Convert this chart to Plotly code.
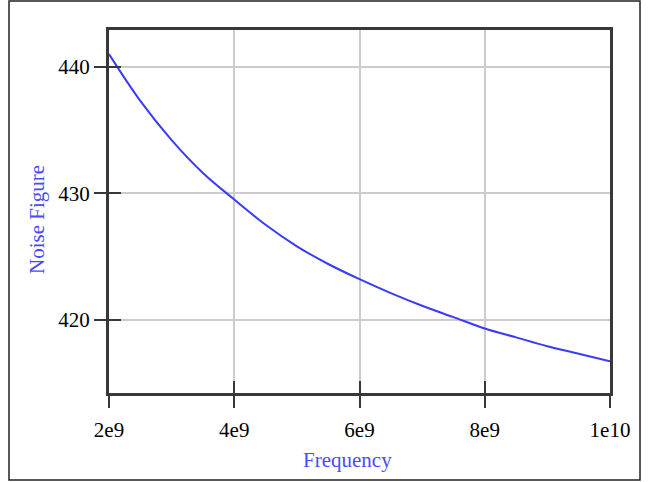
import plotly.graph_objects as go

# Frequency (Hz) and Noise Figure values
frequency = [2.0e9, 2.5e9, 3.0e9, 3.5e9, 4.0e9, 4.5e9, 5.0e9, 5.5e9, 6.0e9,
             6.5e9, 7.0e9, 7.5e9, 8.0e9, 8.5e9, 9.0e9, 9.5e9, 1.0e10]
noise_figure = [441.0, 437.3, 434.2, 431.6, 429.5, 427.5, 425.8, 424.4, 423.2,
                422.1, 421.1, 420.2, 419.3, 418.6, 417.9, 417.3, 416.7]

x_tickvals = [2e9, 4e9, 6e9, 8e9, 1e10]
x_ticktext = ["2e9", "4e9", "6e9", "8e9", "1e10"]
y_tickvals = [420, 430, 440]
y_ticktext = ["420", "430", "440"]

x_range = [2e9, 1e10]
y_range = [414.2, 442.9]

serif = "Liberation Serif, Times New Roman, serif"
axis_col = "#383838"
grid_col = "#cccccc"
blue_txt = "#4a4aff"
fs = 21

fig = go.Figure()
fig.add_trace(go.Scatter(x=frequency, y=noise_figure, mode="lines",
                         line=dict(color="#3a3aff", width=2, shape="spline"),
                         showlegend=False, hoverinfo="skip"))
# invisible trace on secondary axes so inside ticks appear
fig.add_trace(go.Scatter(x=[frequency[0]], y=[noise_figure[0]], xaxis="x2", yaxis="y2",
                         mode="markers", marker=dict(opacity=0), showlegend=False,
                         hoverinfo="skip"))

fig.update_layout(
    width=650, height=482,
    margin=dict(l=109, r=40, t=30, b=89),
    paper_bgcolor="white", plot_bgcolor="white",
    font=dict(family=serif, size=fs, color="black"),
    xaxis=dict(range=x_range, tickvals=x_tickvals, ticktext=x_ticktext,
               showgrid=True, gridcolor=grid_col, gridwidth=2,
               showline=True, linecolor=axis_col, linewidth=3, mirror=True,
               ticks="outside", ticklen=12, tickwidth=2, tickcolor=axis_col,
               ticklabelstandoff=4, zeroline=False,
               tickfont=dict(family=serif, size=fs, color="black")),
    yaxis=dict(range=y_range, tickvals=y_tickvals, ticktext=y_ticktext,
               showgrid=True, gridcolor=grid_col, gridwidth=2,
               showline=True, linecolor=axis_col, linewidth=3, mirror=True,
               ticks="outside", ticklen=12, tickwidth=2, tickcolor=axis_col,
               zeroline=False,
               tickfont=dict(family=serif, size=fs, color="black")),
    xaxis2=dict(range=x_range, tickvals=x_tickvals, overlaying="x", side="bottom",
                showticklabels=False, showgrid=False, zeroline=False,
                ticks="inside", ticklen=12, tickwidth=2, tickcolor=axis_col,
                showline=False),
    yaxis2=dict(range=y_range, tickvals=y_tickvals, overlaying="y", side="left",
                showticklabels=False, showgrid=False, zeroline=False,
                ticks="inside", ticklen=12, tickwidth=2, tickcolor=axis_col,
                showline=False),
    shapes=[dict(type="rect", xref="paper", yref="paper",
                 x0=-0.1996, x1=1.0599, y0=-0.2397, y1=1.0799,
                 line=dict(color="#222222", width=1.5), fillcolor="rgba(0,0,0,0)",
                 layer="below")],
    annotations=[
        dict(text="Frequency", xref="paper", yref="paper", x=0.477, y=-0.1846,
             showarrow=False, xanchor="center", yanchor="middle",
             font=dict(family=serif, size=fs, color=blue_txt)),
        dict(text="Noise Figure", xref="paper", yref="paper", x=-0.1437, y=0.4766,
             showarrow=False, xanchor="center", yanchor="middle", textangle=-90,
             font=dict(family=serif, size=fs, color=blue_txt)),
    ],
)

fig.write_html("out.html", config={"displayModeBar": False},
               post_script="document.body.style.margin='0';document.body.style.overflow='hidden';")
